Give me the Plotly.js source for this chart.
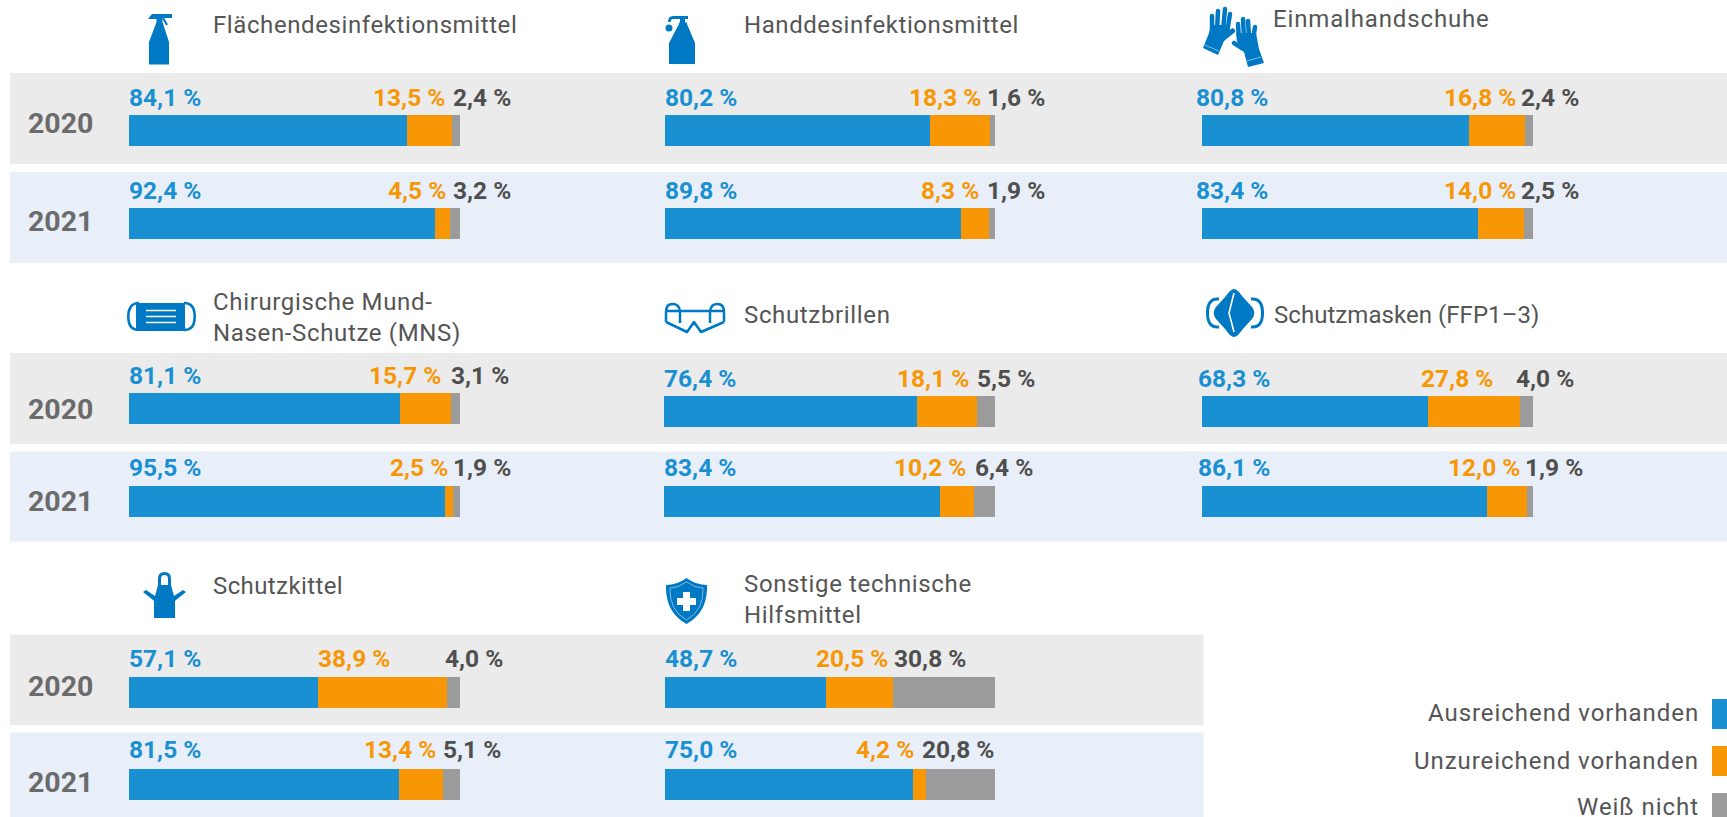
<!DOCTYPE html>
<html><head><meta charset="utf-8">
<script src="https://cdn.plot.ly/plotly-3.0.1.min.js"></script>
<style>html,body{margin:0;padding:0;background:#fff;overflow:hidden}#c{width:1727px;height:817px}</style>
</head><body><div id="c"></div>
<script>
// ---- data ----
const categories = ["Flächendesinfektionsmittel","Handdesinfektionsmittel","Einmalhandschuhe","Chirurgische Mund-<br>Nasen-Schutze (MNS)","Schutzbrillen","Schutzmasken (FFP1–3)","Schutzkittel","Sonstige technische<br>Hilfsmittel"];
const years = ["2020","2021"];
const seriesNames = ["Ausreichend vorhanden","Unzureichend vorhanden","Weiß nicht"];
const ausreichend2020 = [84.1,80.2,80.8,81.1,76.4,68.3,57.1,48.7];
const unzureichend2020 = [13.5,18.3,16.8,15.7,18.1,27.8,38.9,20.5];
const weissNicht2020 = [2.4,1.6,2.4,3.1,5.5,4.0,4.0,30.8];
const ausreichend2021 = [92.4,89.8,83.4,95.5,83.4,86.1,81.5,75.0];
const unzureichend2021 = [4.5,8.3,14.0,2.5,10.2,12.0,13.4,4.2];
const weissNicht2021 = [3.2,1.9,2.5,1.9,6.4,1.9,5.1,20.8];
// the drawn bar of "Chirurgische Mund-Nasen-Schutze" 2020 differs slightly from its printed labels
const chirurgisch2020Balken = [81.9,15.4,2.7];

// ---- layout geometry (pixels) ----
const W=1727,H=817;
const BLUE='#1990D2',ORANGE='#F79706',GREY='#9B9B9B',ICON='#0079C5';
const px=x=>x/W, py=y=>1-y/H;
const panels=[
 {x0:129,x1:460,c:[130.5,223.5]},{x0:665,x1:995,c:[130.5,223.5]},{x0:1201.5,x1:1533,c:[130.5,223.5]},
 {x0:129,x1:460,c:[408.5,501.5]},{x0:664,x1:995,c:[411.5,501.5]},{x0:1201.5,x1:1533,c:[411.5,501.5]},
 {x0:129,x1:460,c:[692.5,784]},{x0:665,x1:995,c:[692.5,784]}];
const barH=31, axisPad=20;
const labelX=[
 [[129,444,453],[129,445,453]],[[665,980,987],[665,978,987]],[[1196,1515,1521],[1196,1515,1521]],
 [[129,440,451],[129,447,453]],[[664,968,977],[664,965,975]],[[1198,1492,1516],[1198,1519,1525]],
 [[129,389,445],[129,435,443]],[[665,887,894],[665,913,922]]];
const labelY=[[97,190.5],[97,190.5],[97,190.5],[375,467],[378,467],[378,467],[658.5,749],[658.5,749]];
const yearY=[[124,221],[409.5,501],[686,782]];
const titleX=[213,743.5,1273,213,743.5,1273.5,213,743.5];
const titleY=[25,25,19,317,315,315,586,599];
const titleSpacing=[0.6,0.57,0.85,0.65,0.65,0.05,0.4,0.63];
const legendSpacing=0.95;
const bands=[
 {y:[73,164],c:'#EBEBEB',x1:W},{y:[172,263],c:'#E8EFF9',x1:W},
 {y:[353,444],c:'#EBEBEB',x1:W},{y:[451.5,541.5],c:'#E8EFF9',x1:W},
 {y:[634.5,725],c:'#EBEBEB',x1:1203.5},{y:[732.5,817],c:'#E8EFF9',x1:1203.5}];

const traces=[],shapes=[],annotations=[],images=[];
const layout={width:W,height:H,margin:{l:0,r:0,t:0,b:0},paper_bgcolor:'#fff',plot_bgcolor:'rgba(0,0,0,0)',
  barmode:'stack',showlegend:false,hovermode:false};
bands.forEach(b=>shapes.push({type:'rect',xref:'paper',yref:'paper',layer:'below',x0:px(10),x1:px(b.x1),y0:py(b.y[0]),y1:py(b.y[1]),fillcolor:b.c,line:{width:0}}));

const fmt=v=>v.toFixed(1).replace('.',',')+' %';
const spaced=(t,ls)=>t.split('<br>').map(l=>`<span style="letter-spacing:${ls}px">${l}</span>`).join('<br>');
const A=[ausreichend2020,ausreichend2021],U=[unzureichend2020,unzureichend2021],N=[weissNicht2020,weissNicht2021];
panels.forEach((p,i)=>{
  const n=i+1, xn=n===1?'x':'x'+n, yn=n===1?'y':'y'+n, lx=n===1?'xaxis':'xaxis'+n, ly=n===1?'yaxis':'yaxis'+n;
  const step=p.c[1]-p.c[0];
  layout[lx]={domain:[px(p.x0),px(p.x1)],range:[0,100],visible:false,fixedrange:true,anchor:yn};
  layout[ly]={domain:[py(p.c[1]+axisPad),py(p.c[0]-axisPad)],type:'category',categoryorder:'array',categoryarray:[years[1],years[0]],
    range:[-axisPad/step,1+axisPad/step],visible:false,fixedrange:true,anchor:xn};
  [[A,BLUE],[U,ORANGE],[N,GREY]].forEach(([s,col],k)=>{
    const first=(i===3)?chirurgisch2020Balken[k]:s[0][i];
    traces.push({type:'bar',orientation:'h',name:seriesNames[k],xaxis:xn,yaxis:yn,
      x:[first,s[1][i]],y:years,marker:{color:col,line:{width:0}},width:barH/step,hoverinfo:'skip'});
  });
  years.forEach((yr,j)=>{
    const lab=(txt,x,anchor,col)=>annotations.push({text:txt,xref:'paper',yref:'paper',x:px(x),y:py(labelY[i][j]),xanchor:anchor,yanchor:'middle',showarrow:false,borderpad:0,borderwidth:0,
      font:{family:'Roboto',size:24.5,weight:700,color:col}});
    lab(fmt(A[j][i]),labelX[i][j][0],'left',BLUE);
    lab(fmt(U[j][i]),labelX[i][j][1]+1,'right',ORANGE);
    lab(fmt(N[j][i]),labelX[i][j][2],'left','#4F4F4F');
  });
  annotations.push({text:spaced(categories[i],titleSpacing[i]),xref:'paper',yref:'paper',x:px(titleX[i]),y:py(titleY[i]),xanchor:'left',yanchor:'middle',align:'left',showarrow:false,borderpad:0,borderwidth:0,
    font:{family:'Roboto',size:24,color:'#555555'}});
});
yearY.forEach(r=>r.forEach((y,j)=>annotations.push({text:years[j],xref:'paper',yref:'paper',x:px(28),y:py(y),xanchor:'left',yanchor:'middle',showarrow:false,borderpad:0,borderwidth:0,
  font:{family:'Roboto',size:28.5,weight:700,color:'#6B6B6B'}})));

// legend
[[712.5,699,729,BLUE],[761,746,776,ORANGE],[807,793,823,GREY]].forEach((l,k)=>{
  shapes.push({type:'rect',xref:'paper',yref:'paper',x0:px(1712),x1:px(1727),y0:py(l[1]),y1:py(Math.min(l[2],817)),fillcolor:l[3],line:{width:0}});
  annotations.push({text:spaced(seriesNames[k],legendSpacing),xref:'paper',yref:'paper',x:px(1699),y:py(l[0]),xanchor:'right',yanchor:'middle',showarrow:false,borderpad:0,borderwidth:0,
    font:{family:'Roboto',size:24,color:'#555555'}});
});

// icons
const svg=(w,h,b)=>'data:image/svg+xml,'+encodeURIComponent(`<svg xmlns="http://www.w3.org/2000/svg" width="${w}" height="${h}" viewBox="0 0 ${w} ${h}">${b}</svg>`);
const ic=ICON;
const icons=[
 [148,14,24,51,`<path fill="${ic}" d="M0 5L4 0H24V4H14.500V8H8.500V5ZM8.500 8H14.500L21 28V50.500H1V28Z"/><path stroke="${ic}" stroke-width="2" d="M15 4L19 11"/>`],
 [665,14,35,51,`<path fill="${ic}" d="M4 50V29L14 10V8.500H15V5H20V8.500H22V10L30 29V50ZM23 2H8Q3 2 3 8H5.500Q6 5 8 5H23Z"/><circle fill="${ic}" cx="4" cy="14" r="3.500"/>`],
 [1200,5,70,65,`<g fill="${ic}" stroke="none"><path d="M3 43L9 28 11 20H30L27 26 33 23 33 26 24 36 18 50Z"/><path d="M36 28H56L59 44 64 58 48 62 44 47 34 40 33 37 38 38Z"/></g><g stroke="${ic}" stroke-width="4.500" stroke-linecap="round"><path d="M12 28L12 11M17 26L18 6M23 26L25 4M27 28L30 9M24 33L33 26"/><path d="M39 35L38 19M44 32L43 14M49 32L48 16M53 35L55 22M42 43L34 38"/></g><path stroke="#9CCAE8" stroke-width=".8" d="M4.500 40L19 46M46.500 56L61 52"/>`],
 [127,300,69,33,`<g fill="none" stroke="${ic}" stroke-width="2.600"><path d="M12 3C4 3 1.300 9 1.300 16.500S4 30 12 30M57 3C65 3 67.700 9 67.700 16.500S65 30 57 30"/></g><rect x="9" y="3" width="49" height="28" rx="2" fill="${ic}"/><path d="M19 10.500H49M19 16.500H49M19 22.500H49" stroke="#fff" stroke-width="1.700"/>`],
 [664,302,62,33,`<g fill="none" stroke="${ic}" stroke-width="2.500" stroke-linejoin="round"><path d="M2 20V10Q2 2 8.500 2 15 2 16 9V21M60 20V10Q60 2 53.500 2 47 2 46 9V21M2 9H60M2 20L23 30 30 20 37 30 60 20"/></g>`],
 [1206,287,58,52,`<path fill="none" stroke="${ic}" stroke-width="3" d="M13 12C4 11 1.500 18 1.500 26S4 41 13 40M45 12C54 11 56.500 18 56.500 26S54 41 45 40"/><path fill="${ic}" d="M28 2C31 2 34 6 36 9L46 20C49 24 49 28 46 32L36 43C34 46 31 50 28 50S22 46 20 43L10 32C7 28 7 24 10 20L20 9C22 6 25 2 28 2Z"/><path fill="none" stroke="#fff" stroke-width="1.600" d="M28 6L23 26 28 45"/>`],
 [143,572,43,46,`<path fill="${ic}" fill-rule="evenodd" d="M15 13V7Q15 0 21.500 0T28 7V13L31 24 40 18 43 20 33 28 32 29V46H11V29L10 28 0 20 3 18 12 24ZM18 13H25V7Q25 3 21.500 3T18 7Z"/>`],
 [666,578,41,46,`<path fill="${ic}" d="M20.500 0Q30 7 41 7 42 34 20.500 46-1 34 0 7 11 7 20.500 0Z"/><path fill="none" stroke="#9CCAE8" stroke-width=".8" d="M20.500 4Q29 10 37 10 38 32 20.500 42 3 32 4 10 12 10 20.500 4Z"/><path fill="#fff" d="M17 14H24V20H30V27H24V33H17V27H11V20H17Z"/>`]
];
icons.forEach(([x,y,w,h,b])=>images.push({source:svg(w,h,b),xref:'paper',yref:'paper',x:px(x),y:py(y),sizex:w/W,sizey:h/H,xanchor:'left',yanchor:'top',sizing:'stretch',layer:'above'}));

layout.shapes=shapes;layout.annotations=annotations;layout.images=images;
Plotly.newPlot('c',traces,layout,{displayModeBar:false,staticPlot:true});
</script></body></html>
